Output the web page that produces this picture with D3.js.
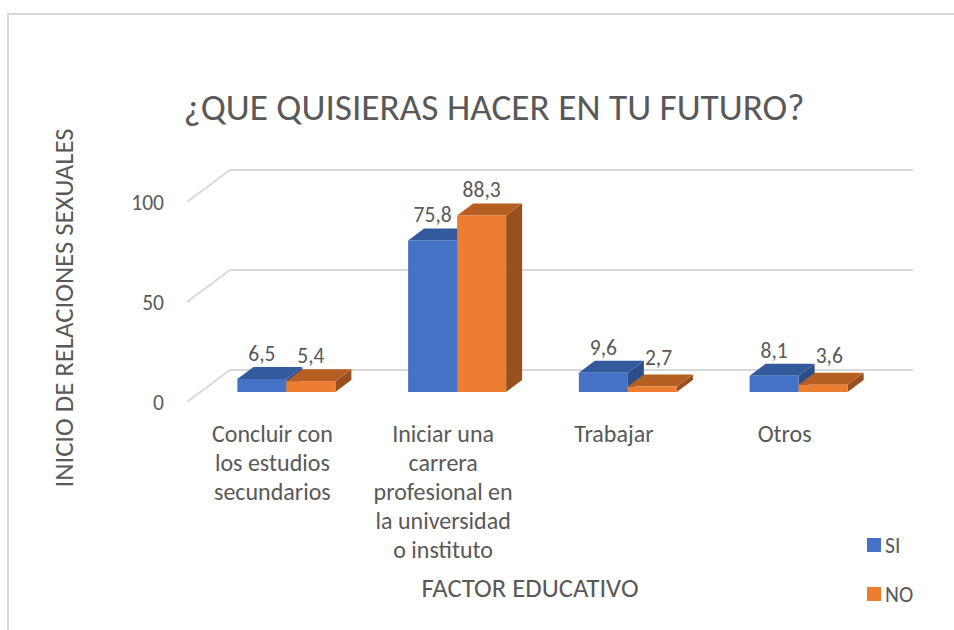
<!DOCTYPE html>
<html>
<head>
<meta charset="utf-8">
<script src="https://cdn.jsdelivr.net/npm/d3@7/dist/d3.min.js"></script>
<style>
  html, body { margin: 0; padding: 0; background: #fff; }
  svg { display: block; }
  text { font-family: Carlito, "Open Sans", sans-serif; fill: #595959; }
</style>
</head>
<body>
<svg id="chart" width="954" height="630"></svg>
<script>
// Data
const categories = [
  ["Concluir con", "los estudios", "secundarios"],
  ["Iniciar una", "carrera", "profesional en", "la universidad", "o instituto"],
  ["Trabajar"],
  ["Otros"]
];
const seriesNames = ["SI", "NO"];
const siValues = [6.5, 75.8, 9.6, 8.1];
const noValues = [5.4, 88.3, 2.7, 3.6];
const yTicks = [0, 50, 100];

const titleText = "¿QUE QUISIERAS HACER EN TU FUTURO?";
const yTitle = "INICIO DE RELACIONES SEXUALES";
const xTitle = "FACTOR EDUCATIVO";

// Colours: front, top, side per series
const palette = [
  { front: "#4472C4", top: "#335A9C", side: "#2B4E8A" },
  { front: "#ED7D31", top: "#B65F23", side: "#98501E" }
];

const svg = d3.select("#chart");

// Outer chart frame
svg.append("rect")
  .attr("x", 8).attr("y", 14)
  .attr("width", 960).attr("height", 640)
  .attr("fill", "none").attr("stroke", "#D9D9D9").attr("stroke-width", 2);

// Pseudo-3D geometry: back wall, floor depth, bar plane
const backLeft = 230, backRight = 913;
const depth = { dx: -43, dy: 32 };        // back wall -> front edge of floor
const barPlane = { dx: -29, dy: 22 };     // back wall -> front face of bars
const barDepth = { dx: 16, dy: -12 };     // thickness of each bar

const yBack = d3.scaleLinear().domain([0, 100]).range([370, 170]);

const xBand = d3.scaleBand()
  .domain(d3.range(categories.length))
  .range([backLeft, backRight]);

const barW = 49;
const xSeries = d3.scaleBand()
  .domain(d3.range(seriesNames.length))
  .range([-barW, barW]);

// Gridlines on back wall and side wall
const grid = svg.append("g");
yTicks.forEach(t => {
  grid.append("line")
    .attr("x1", backLeft).attr("x2", backRight)
    .attr("y1", yBack(t)).attr("y2", yBack(t))
    .attr("stroke", "#D9D9D9").attr("stroke-width", 2);
  grid.append("line")
    .attr("x1", backLeft).attr("y1", yBack(t))
    .attr("x2", backLeft + depth.dx).attr("y2", yBack(t) + depth.dy)
    .attr("stroke", "#D9D9D9").attr("stroke-width", 2);
});

// Y tick labels on the front edge
svg.append("g").selectAll("text").data(yTicks).join("text")
  .attr("x", 164)
  .attr("y", d => yBack(d) + depth.dy)
  .attr("dy", "0.35em")
  .attr("text-anchor", "end")
  .attr("font-size", 21.5)
  .text(d => d);

// Bars
const seriesValues = [siValues, noValues];
const bars = svg.append("g");
const labels = [];
categories.forEach((c, i) => {
  const cx = xBand(i) + xBand.bandwidth() / 2 + barPlane.dx;
  const prev = [];
  seriesValues.forEach((vals, s) => {
    const v = vals[i];
    const x0 = cx + xSeries(s);
    const x1 = x0 + xSeries.bandwidth();
    const yb = yBack(0) + barPlane.dy;
    const yt = yBack(v) + barPlane.dy;
    const col = palette[s];
    const g = bars.append("g");
    g.append("polygon")
      .attr("points", [[x1, yt], [x1 + barDepth.dx, yt + barDepth.dy],
        [x1 + barDepth.dx, yb + barDepth.dy], [x1, yb]].join(" "))
      .attr("fill", col.side);
    g.append("polygon")
      .attr("points", [[x0, yt], [x1, yt], [x1 + barDepth.dx, yt + barDepth.dy],
        [x0 + barDepth.dx, yt + barDepth.dy]].join(" "))
      .attr("fill", col.top);
    g.append("rect")
      .attr("x", x0).attr("y", yt)
      .attr("width", x1 - x0).attr("height", yb - yt)
      .attr("fill", col.front);
    const lab = { x: (x0 + x1) / 2, y: yt + barDepth.dy - 6, v, anchor: "middle" };
    // push a label clear of the neighbouring, taller bar's top
    const p = prev[prev.length - 1];
    if (p && lab.y > p.topBack - 2) {
      lab.x = p.rightBack + 1;
      lab.anchor = "start";
      lab.y -= 4;
    }
    prev.push({ topBack: yt + barDepth.dy, rightBack: x1 + barDepth.dx });
    labels.push(lab);
  });
});

// Value labels
svg.append("g").selectAll("text").data(labels).join("text")
  .attr("x", d => d.x)
  .attr("y", d => d.y)
  .attr("text-anchor", d => d.anchor)
  .attr("font-size", 21.5)
  .text(d => d.v.toFixed(1).replace(".", ","));

// Category labels on the front edge of the floor
const catG = svg.append("g");
categories.forEach((lines, i) => {
  const cx = xBand(i) + xBand.bandwidth() / 2 + depth.dx;
  const t = catG.append("text")
    .attr("text-anchor", "middle")
    .attr("font-size", 24);
  lines.forEach((ln, k) => {
    t.append("tspan").attr("x", cx).attr("y", 442 + k * 29).text(ln);
  });
});

// Titles
svg.append("text")
  .attr("x", 494).attr("y", 120)
  .attr("text-anchor", "middle")
  .attr("font-size", 37.3)
  .text(titleText);

svg.append("text")
  .attr("transform", "translate(73,308) rotate(-90)")
  .attr("text-anchor", "middle")
  .attr("font-size", 26.7)
  .text(yTitle);

svg.append("text")
  .attr("x", 530).attr("y", 597)
  .attr("text-anchor", "middle")
  .attr("font-size", 26.7)
  .text(xTitle);

// Legend
const legend = svg.append("g");
seriesNames.forEach((name, s) => {
  const y = 545 + s * 49;
  legend.append("rect")
    .attr("x", 867).attr("y", y - 7)
    .attr("width", 14).attr("height", 14)
    .attr("fill", palette[s].front);
  legend.append("text")
    .attr("x", 885).attr("y", y)
    .attr("dy", "0.35em")
    .attr("font-size", 21.5)
    .text(name);
});
</script>
</body>
</html>
